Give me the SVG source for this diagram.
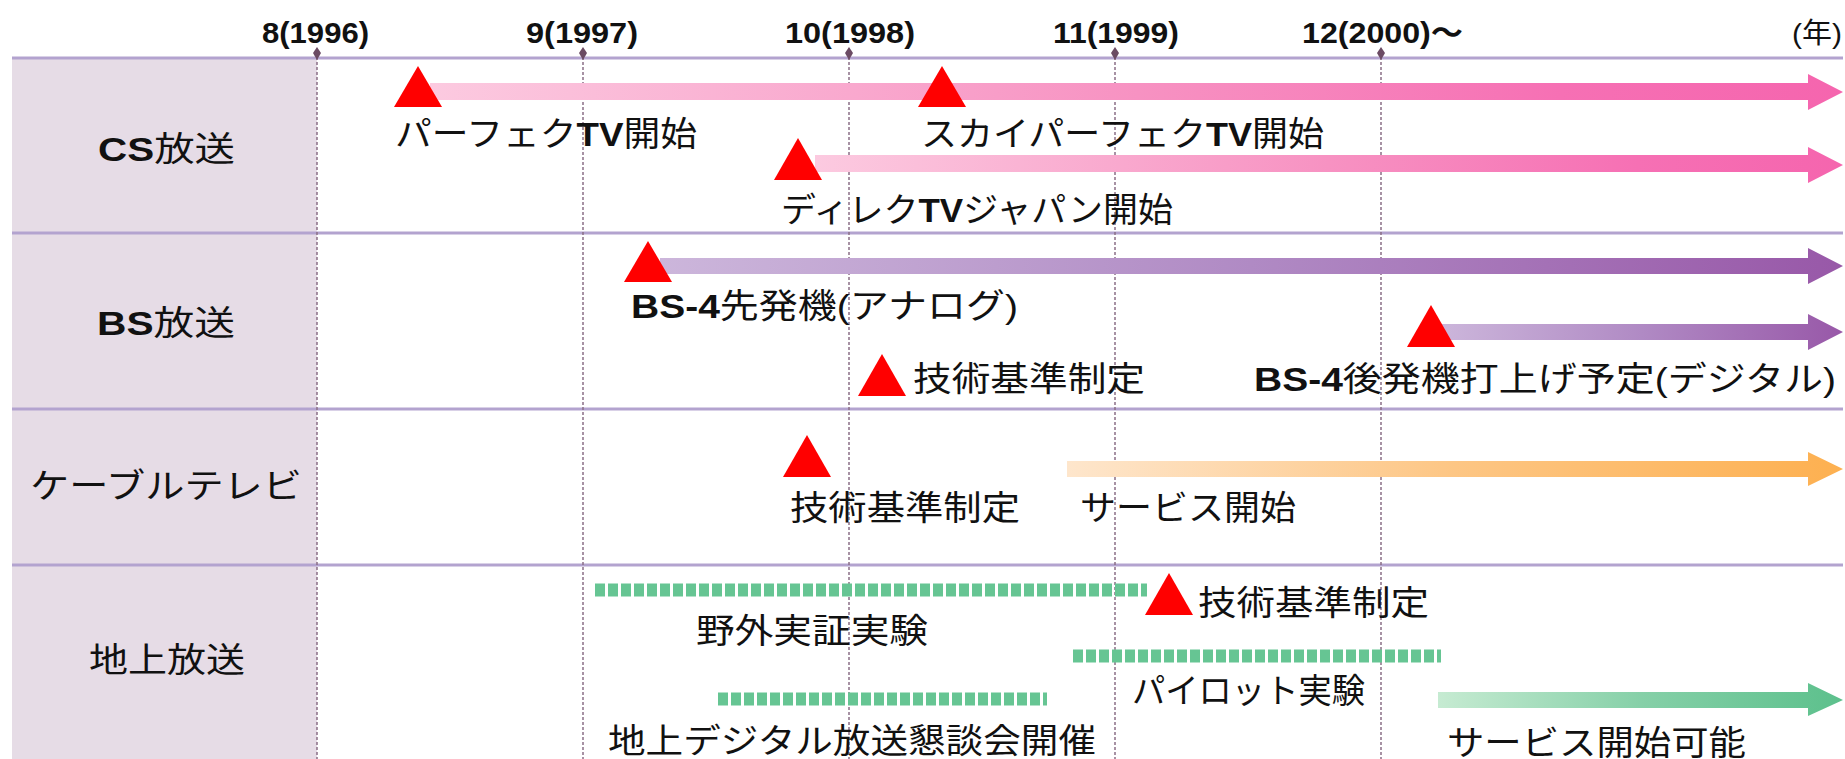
<svg xmlns="http://www.w3.org/2000/svg" width="1845" height="759" viewBox="0 0 1845 759">
<defs>
<linearGradient id="gPink" x1="0" x2="1" y1="0" y2="0"><stop offset="0" stop-color="#fccae0"/><stop offset="0.5" stop-color="#f792c2"/><stop offset="0.8" stop-color="#f670b4"/><stop offset="1" stop-color="#f565ae"/></linearGradient>
<linearGradient id="gPurple" x1="0" x2="1" y1="0" y2="0"><stop offset="0" stop-color="#ccb6db"/><stop offset="0.5" stop-color="#b08ac4"/><stop offset="1" stop-color="#9858a8"/></linearGradient>
<linearGradient id="gOrange" x1="0" x2="1" y1="0" y2="0"><stop offset="0" stop-color="#fee6cc"/><stop offset="0.5" stop-color="#fdc684"/><stop offset="1" stop-color="#fdb050"/></linearGradient>
<linearGradient id="gGreen" x1="0" x2="1" y1="0" y2="0"><stop offset="0" stop-color="#c6ebd2"/><stop offset="0.5" stop-color="#86d0a8"/><stop offset="1" stop-color="#5cc08c"/></linearGradient>
</defs>
<style>
.t{font-family:'Liberation Sans','Noto Sans CJK JP',sans-serif;font-size:34px;fill:#111}
.h{font-family:'Liberation Sans','Noto Sans CJK JP',sans-serif;font-size:30px;font-weight:bold;fill:#111}
.y{font-family:'Liberation Sans','Noto Sans CJK JP',sans-serif;font-size:28px;fill:#111}
.b{font-weight:bold}
.row{stroke:#b3a3cf;stroke-width:3}
.tick{stroke:#8a6f86;stroke-width:1.5;stroke-dasharray:3 2}
.mk{fill:#6b4b63}
.tri{fill:#ff0000}
.dash{stroke:#66c593;stroke-width:13;stroke-dasharray:10 3}
</style>
<rect width="1845" height="759" fill="#ffffff"/>
<rect x="12" y="58" width="305" height="701" fill="#e6dce6"/>
<g id="grid">
<line class="row" x1="12" y1="58" x2="1843" y2="58"/>
<line class="row" x1="12" y1="233" x2="1843" y2="233"/>
<line class="row" x1="12" y1="409" x2="1843" y2="409"/>
<line class="row" x1="12" y1="565" x2="1843" y2="565"/>
<line class="tick" x1="317" y1="52" x2="317" y2="759"/>
<line class="tick" x1="583" y1="52" x2="583" y2="759"/>
<line class="tick" x1="849" y1="52" x2="849" y2="759"/>
<line class="tick" x1="1115" y1="52" x2="1115" y2="759"/>
<line class="tick" x1="1381" y1="52" x2="1381" y2="759"/>
<path class="mk" d="M317,47 L321,53 L317,60 L313,53 Z"/>
<path class="mk" d="M583,47 L587,53 L583,60 L579,53 Z"/>
<path class="mk" d="M849,47 L853,53 L849,60 L845,53 Z"/>
<path class="mk" d="M1115,47 L1119,53 L1115,60 L1111,53 Z"/>
<path class="mk" d="M1381,47 L1385,53 L1381,60 L1377,53 Z"/>
</g>
<g id="axis-labels">
<text class="h" x="262" y="43" textLength="107" lengthAdjust="spacingAndGlyphs">8(1996)</text>
<text class="h" x="526" y="43" textLength="112" lengthAdjust="spacingAndGlyphs">9(1997)</text>
<text class="h" x="785" y="43" textLength="130" lengthAdjust="spacingAndGlyphs">10(1998)</text>
<text class="h" x="1053" y="43" textLength="126" lengthAdjust="spacingAndGlyphs">11(1999)</text>
<text class="h" x="1302" y="43" textLength="161" lengthAdjust="spacingAndGlyphs">12(2000)〜</text>
<text class="y" x="1792" y="43" textLength="50" lengthAdjust="spacingAndGlyphs">(年)</text>
</g>
<g id="row-cs"><text class="t" x="98" y="161" textLength="137" lengthAdjust="spacingAndGlyphs"><tspan class="b">CS</tspan>放送</text></g>
<g id="row-bs"><text class="t" x="97" y="335" textLength="138" lengthAdjust="spacingAndGlyphs"><tspan class="b">BS</tspan>放送</text></g>
<g id="row-catv"><text class="t" x="30" y="498" textLength="272" lengthAdjust="spacingAndGlyphs">ケーブルテレビ</text></g>
<g id="row-terr"><text class="t" x="89" y="672" textLength="156" lengthAdjust="spacingAndGlyphs">地上放送</text></g>
<g id="connectors">
<path fill="url(#gPink)" d="M430,83 H1808 V74 L1843,92 L1808,110 V100 H430 Z"/>
<path fill="url(#gPink)" d="M815,155 H1808 V147 L1843,165 L1808,183 V172 H815 Z"/>
<path fill="url(#gPurple)" d="M660,258 H1808 V248 L1843,266 L1808,284 V274 H660 Z"/>
<path fill="url(#gPurple)" d="M1440,324 H1808 V314 L1843,332 L1808,350 V340 H1440 Z"/>
<path fill="url(#gOrange)" d="M1067,461 H1808 V452 L1843,469 L1808,486 V477 H1067 Z"/>
<path fill="url(#gGreen)" d="M1438,692 H1808 V683 L1843,700 L1808,716 V708 H1438 Z"/>
<line class="dash" x1="595" y1="590" x2="1147" y2="590"/>
<line class="dash" x1="1073" y1="656" x2="1441" y2="656"/>
<line class="dash" x1="718" y1="699" x2="1047" y2="699"/>
</g>
<g id="ev-perfectv"><path class="tri" d="M418,66 L442,107 L394,107 Z"/><text class="t" x="395" y="146" textLength="302" lengthAdjust="spacingAndGlyphs">パーフェク<tspan class="b">TV</tspan>開始</text></g>
<g id="ev-skyperfectv"><path class="tri" d="M942,66 L966,107 L918,107 Z"/><text class="t" x="921" y="146" textLength="403" lengthAdjust="spacingAndGlyphs">スカイパーフェク<tspan class="b">TV</tspan>開始</text></g>
<g id="ev-directv"><path class="tri" d="M798,138 L822,180 L774,180 Z"/><text class="t" x="781" y="222" textLength="392" lengthAdjust="spacingAndGlyphs">ディレク<tspan class="b">TV</tspan>ジャパン開始</text></g>
<g id="ev-bs4a"><path class="tri" d="M648,241 L672,282 L624,282 Z"/><text class="t" x="631" y="318" textLength="387" lengthAdjust="spacingAndGlyphs"><tspan class="b">BS-4</tspan>先発機(アナログ)</text></g>
<g id="ev-bs-std"><path class="tri" d="M882,354 L906,396 L858,396 Z"/><text class="t" x="913" y="391" textLength="232" lengthAdjust="spacingAndGlyphs">技術基準制定</text></g>
<g id="ev-bs4d"><path class="tri" d="M1431,305 L1455,347 L1407,347 Z"/><text class="t" x="1254" y="391" textLength="582" lengthAdjust="spacingAndGlyphs"><tspan class="b">BS-4</tspan>後発機打上げ予定(デジタル)</text></g>
<g id="ev-catv-std"><path class="tri" d="M807,435 L831,477 L783,477 Z"/><text class="t" x="790" y="520" textLength="230" lengthAdjust="spacingAndGlyphs">技術基準制定</text></g>
<g id="ev-catv-svc"><text class="t" x="1080" y="520" textLength="216" lengthAdjust="spacingAndGlyphs">サービス開始</text></g>
<g id="ev-field"><text class="t" x="696" y="643" textLength="232" lengthAdjust="spacingAndGlyphs">野外実証実験</text></g>
<g id="ev-terr-std"><path class="tri" d="M1169,573 L1193,615 L1145,615 Z"/><text class="t" x="1198" y="615" textLength="231" lengthAdjust="spacingAndGlyphs">技術基準制定</text></g>
<g id="ev-pilot"><text class="t" x="1132" y="703" textLength="233" lengthAdjust="spacingAndGlyphs">パイロット実験</text></g>
<g id="ev-council"><text class="t" x="608" y="753" textLength="488" lengthAdjust="spacingAndGlyphs">地上デジタル放送懇談会開催</text></g>
<g id="ev-terr-svc"><text class="t" x="1447" y="755" textLength="299" lengthAdjust="spacingAndGlyphs">サービス開始可能</text></g>
</svg>
